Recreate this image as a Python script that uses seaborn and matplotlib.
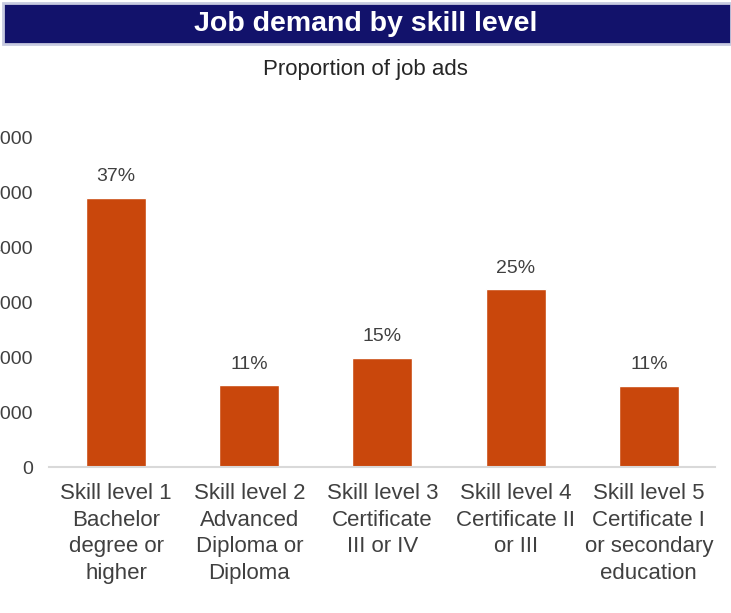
import matplotlib
matplotlib.use("Agg")
import matplotlib.pyplot as plt
from matplotlib.patches import Rectangle
import seaborn as sns
import pandas as pd

# values (number of job ads)
categories = [
    "Skill level 1\nBachelor\ndegree or\nhigher",
    "Skill level 2\nAdvanced\nDiploma or\nDiploma",
    "Skill level 3\nCertificate\nIII or IV",
    "Skill level 4\nCertificate II\nor III",
    "Skill level 5\nCertificate I\nor secondary\neducation",
]
job_ads = [4910, 1500, 1995, 3250, 1485]
pct_labels = ["37%", "11%", "15%", "25%", "11%"]
y_ticks = [0, 1000, 2000, 3000, 4000, 5000, 6000]

df = pd.DataFrame({"Skill": categories, "Ads": job_ads})

sns.set_style("white")
plt.rcParams["font.family"] = ["Liberation Sans", "DejaVu Sans"]

fig = plt.figure(figsize=(7.31, 6.13), dpi=100)
ax = fig.add_axes([0.0677, 0.2374, 0.911, 0.5375])

sns.barplot(data=df, x="Skill", y="Ads", color="#c9470c", saturation=1,
            width=0.45, ax=ax)

# percentage labels above the bars
ax.bar_label(ax.containers[0], labels=pct_labels, padding=9,
             fontsize=14, color="#404040")

ax.set_xlim(-0.5, 4.5)
ax.set_ylim(0, 6000)
ax.set_yticks(y_ticks)
ax.set_yticklabels([str(t) for t in y_ticks])
ax.set_xlabel("")
ax.set_ylabel("")
ax.tick_params(axis="y", length=0, pad=12, labelsize=14, labelcolor="#404040")
ax.tick_params(axis="x", length=0, pad=11, labelsize=16, labelcolor="#404040")
for lab in ax.get_xticklabels():
    lab.set_linespacing(1.36)

sns.despine(ax=ax, left=True)
ax.spines["bottom"].set_color("#d9d9d9")
ax.spines["bottom"].set_linewidth(1.5)

# navy title banner
fig.patches.append(Rectangle((3 / 731, 1 - 44 / 613), 1 - 3 / 731, 41 / 613,
                             transform=fig.transFigure, facecolor="#12126b",
                             edgecolor="#c8cbe0", linewidth=2, zorder=0))
fig.text(0.5, 1 - 24 / 613, "Job demand by skill level", ha="center",
         va="center", color="white", fontsize=20.5, fontweight="bold")
fig.text(0.5, 1 - 70 / 613, "Proportion of job ads", ha="center",
         va="center", color="#262626", fontsize=16)

fig.savefig("out.png", dpi=100)
